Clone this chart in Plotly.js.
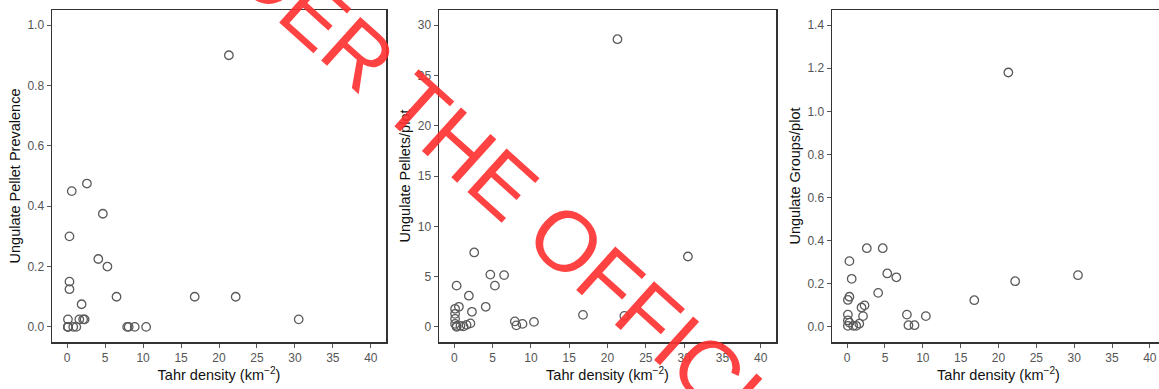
<!DOCTYPE html>
<html>
<head>
<meta charset="utf-8">
<script src="https://cdn.plot.ly/plotly-3.0.1.min.js"></script>
<style>
html,body{margin:0;padding:0;overflow:hidden;background:#fff;width:1159px;height:389px;}
#chart{width:1200px;height:389px;}
</style>
</head>
<body>
<div id="chart"></div>
<script>
// Tahr density (km^-2) per site, shared by all three panels
const tahrDensity = [0.1, 0.1, 0.1, 0.1, 0.3, 0.3, 0.3, 0.6, 0.8, 1.2, 1.6, 1.9, 2.1, 2.3, 2.6, 4.1, 4.7, 5.3, 6.5, 7.9, 8.1, 8.9, 10.4, 16.8, 21.3, 22.2, 30.5];
// Panel 1: ungulate pellet prevalence
const pelletPrevalence = [0.025, 0, 0, 0, 0.3, 0.15, 0.125, 0.45, 0, 0, 0.025, 0.075, 0.025, 0.025, 0.475, 0.225, 0.375, 0.2, 0.1, 0, 0, 0, 0, 0.1, 0.9, 0.1, 0.025];
// Panel 2: ungulate pellets per plot
const pelletsPerPlot = [1.8, 1.3, 0.8, 0.3, 4.1, 0.0, 0.1, 2.0, 0.1, 0.05, 0.2, 3.1, 0.35, 1.5, 7.4, 2.0, 5.2, 4.1, 5.15, 0.55, 0.15, 0.3, 0.5, 1.2, 28.6, 1.1, 7.0];
// Panel 3: ungulate groups per plot
const groupsPerPlot = [0.125, 0.057, 0.03, 0.005, 0.305, 0.14, 0.02, 0.223, 0.005, 0.005, 0.015, 0.09, 0.05, 0.1, 0.365, 0.158, 0.365, 0.248, 0.23, 0.057, 0.008, 0.008, 0.05, 0.124, 1.18, 0.212, 0.24];

const yTitles = ["Ungulate Pellet Prevalence", "Ungulate Pellets/plot", "Ungulate Groups/plot"];
const xTitle = "Tahr density (km<sup>\u22122</sup>)";
const watermark = "UNDER THE OFFICIAL";

const W = 1200, H = 389;
const xDom = [[52, 386], [439, 776], [832, 1165]].map(d => [d[0] / W, d[1] / W]);
const yDom = [(H - 342) / H, (H - 10) / H];

const marker = {symbol: 'circle-open', size: 8.5, color: '#5a5a5a', line: {width: 1.3, color: '#5a5a5a'}};
const series = [pelletPrevalence, pelletsPerPlot, groupsPerPlot];
const traces = series.map((ys, i) => ({
  type: 'scatter', mode: 'markers', x: tahrDensity, y: ys,
  xaxis: i === 0 ? 'x' : 'x' + (i + 1), yaxis: i === 0 ? 'y' : 'y' + (i + 1),
  marker: marker, showlegend: false, hoverinfo: 'skip'
}));

const tickFont = {family: 'Liberation Sans, Arial, sans-serif', size: 12, color: '#555'};
const titleFont = {family: 'Liberation Sans, Arial, sans-serif', size: 14.5, color: '#111'};
const yRanges = [[-0.05, 1.05], [-1.5, 31.5], [-0.07, 1.47]];
const yDticks = [0.2, 5, 0.2];
const yFormats = ['.1f', 'd', '.1f'];

const layout = {
  width: W, height: H,
  margin: {l: 0, r: 0, t: 0, b: 0},
  paper_bgcolor: '#fff', plot_bgcolor: '#fff',
  annotations: [{
    xref: 'paper', yref: 'paper', x: 0.409, y: 0.553, xanchor: 'center', yanchor: 'middle',
    text: watermark, showarrow: false, textangle: 42,
    font: {family: 'Liberation Sans, Arial, sans-serif', size: 85, color: 'rgba(255,45,45,0.9)'}
  }]
};
for (let i = 0; i < 3; i++) {
  const sx = i === 0 ? '' : String(i + 1);
  layout['xaxis' + sx] = {
    domain: xDom[i], anchor: 'y' + sx, range: [-2, 42], dtick: 5, tick0: 0,
    showgrid: false, zeroline: false, showline: true, mirror: true, linecolor: '#333', linewidth: 1.5,
    ticks: 'outside', ticklen: 4, tickcolor: '#555', tickwidth: 1, tickfont: tickFont,
    title: {text: xTitle, font: titleFont, standoff: 6}
  };
  layout['yaxis' + sx] = {
    domain: yDom, anchor: 'x' + sx, range: yRanges[i], dtick: yDticks[i], tick0: 0, tickformat: yFormats[i],
    showgrid: false, zeroline: false, showline: true, mirror: true, linecolor: '#333', linewidth: 1.5,
    ticks: 'outside', ticklen: 4, tickcolor: '#555', tickwidth: 1, tickfont: tickFont,
    title: {text: yTitles[i], font: titleFont, standoff: 3}
  };
}
Plotly.newPlot('chart', traces, layout, {staticPlot: true, displayModeBar: false});
</script>
</body>
</html>
